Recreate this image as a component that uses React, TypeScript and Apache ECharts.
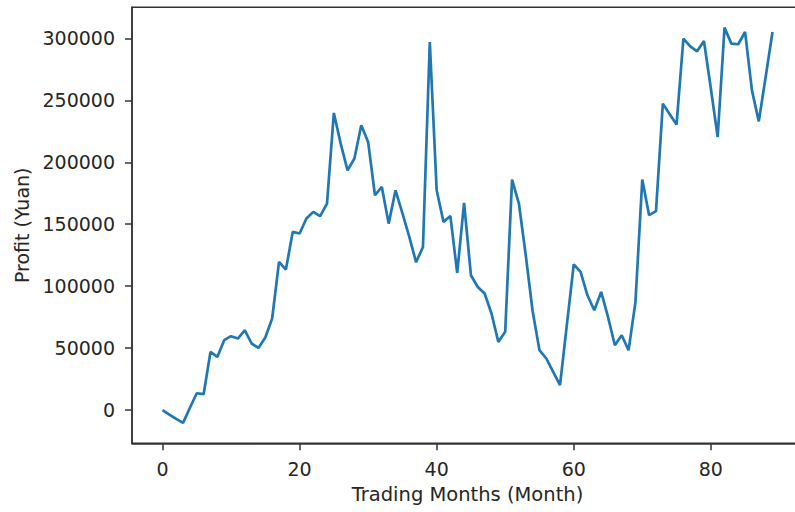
import React, { useEffect, useRef } from "react";
import * as echarts from "echarts";

const months: number[] = Array.from({ length: 90 }, (_, i) => i);
const profit: number[] = [
  0, -3500, -7000, -10200, 2000, 13700, 12900, 47000, 43000, 56500,
  59700, 57800, 64500, 53800, 50200, 58600, 74000, 119600, 113400, 143800,
  142500, 154600, 160000, 156500, 166700, 239800, 215000, 193500, 203000, 229800,
  216400, 173400, 180100, 150500, 177400, 159000, 140000, 119300, 131700, 297000,
  177400, 151900, 156700, 110700, 167200, 108900, 99400, 94100, 78000, 55100,
  63200, 186000, 166700, 125000, 80000, 48400, 41700, 31000, 20200, 69000,
  117700, 111500, 92700, 80600, 95400, 75200, 52400, 60500, 48400, 87000,
  186000, 157300, 160600, 247300, 238700, 230400, 299800, 293500, 289500, 297800,
  259700, 220400, 308600, 295700, 295200, 305100, 258000, 233000, 268800, 305100,
];
const xTicks: number[] = [0, 20, 40, 60, 80];
const yTicks: number[] = [0, 50000, 100000, 150000, 200000, 250000, 300000];
const xName = "Trading Months (Month)";
const yName = "Profit (Yuan)";

export default function App() {
  const ref = useRef<HTMLDivElement>(null);
  useEffect(() => {
    if (!ref.current) return;
    const chart = echarts.init(ref.current, null, { renderer: "svg" });
    const font = "DejaVu Sans";
    const textColor = "#262626";
    chart.setOption({
      animation: false,
      backgroundColor: "#ffffff",
      grid: {
        left: 132,
        top: 7.3,
        width: 671,
        height: 436,
        show: true,
        borderColor: "#333333",
        borderWidth: 1.5,
        backgroundColor: "transparent",
        containLabel: false,
        outerBoundsMode: "none",
      },
      xAxis: {
        type: "value",
        min: -4.45,
        max: 93.45,
        name: xName,
        nameLocation: "middle",
        nameGap: 41,
        nameTextStyle: { fontFamily: font, fontSize: 19.5, color: textColor },
        axisLine: { show: true, onZero: false, lineStyle: { color: "#333333", width: 1.5 } },
        axisTick: { show: true, inside: false, length: 7, customValues: xTicks, lineStyle: { color: "#333333", width: 1.5 } },
        axisLabel: { customValues: xTicks, margin: 16, fontFamily: font, fontSize: 19, color: textColor, formatter: (v: number) => String(v) },
        splitLine: { show: false },
      },
      yAxis: {
        type: "value",
        min: -26700,
        max: 325000,
        name: yName,
        nameLocation: "middle",
        nameGap: 99,
        nameRotate: 90,
        nameTextStyle: { fontFamily: font, fontSize: 19, color: textColor },
        axisLine: { show: true, onZero: false, lineStyle: { color: "#333333", width: 1.5 } },
        axisTick: { show: true, inside: false, length: 7, customValues: yTicks, lineStyle: { color: "#333333", width: 1.5 } },
        axisLabel: { customValues: yTicks, margin: 17, fontFamily: font, fontSize: 19, color: textColor, formatter: (v: number) => String(v) },
        splitLine: { show: false },
      },
      series: [
        {
          type: "line",
          data: months.map((m, i) => [m, profit[i]]),
          showSymbol: false,
          symbol: "none",
          lineStyle: { color: "#1f77b4", width: 2.7 },
          clip: true,
        },
      ],
    });
    return () => chart.dispose();
  }, []);
  return (
    <div
      ref={ref}
      style={{ position: "absolute", left: 0, top: 0, width: 795, height: 512 }}
    />
  );
}
